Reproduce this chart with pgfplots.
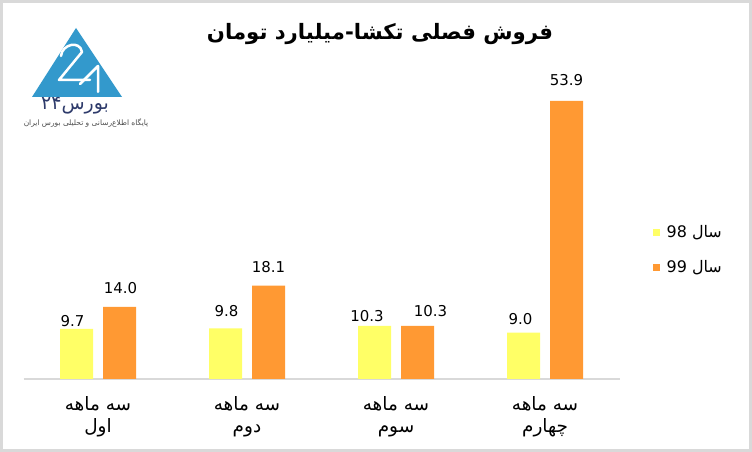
\documentclass[border=0pt]{standalone}
\usepackage{pgfplots}
\pgfplotsset{compat=1.18}
\usepackage{pgfplotstable}
\usepackage{fontspec}
\setmainfont{DejaVu Sans}
\newfontfamily\arabicfont[Script=Arabic]{DejaVu Sans}
\TeXXeTstate=1
\definecolor{barY}{HTML}{FFFF66}
\definecolor{barO}{HTML}{FF9933}
\definecolor{gridc}{HTML}{D9D9D9}
\definecolor{logoblue}{HTML}{3399CC}
\definecolor{logonavy}{HTML}{2E3B6B}

\pgfplotstableread{
x y98 dx98 dy98 y99 dx99 dy99
0 9.7  -4   2  14.0  1  13
1 9.8   1  12  18.1  0  13
2 10.3 -7.5 4  10.3 13   9
3 9.0  -3   8  53.9  0  15
}\datatable

\begin{document}
\begin{tikzpicture}[x=1bp,y=1bp]
\path[use as bounding box] (0,0) rectangle (752,452);
\fill[white] (0,0) rectangle (752,452);
\draw[gridc, line width=3bp] (1.5,1.5) rectangle (750.5,450.5);
% logo and title
\begin{scope}[shift={(0,452)}, yscale=-1]
\fill[logoblue] (32,97) -- (76,28) -- (122,97) -- cycle;
\draw[white, line width=2.5bp, line join=round, line cap=round]
  (61,56) .. controls (62,44) and (80,40) .. (82,52) -- (59,80) -- (90,80);
\draw[white, line width=2.5bp, line join=round, line cap=round]
  (80,84) -- (98,66) -- (98,92);
\node[text=logonavy, font=\arabicfont\fontsize{19}{20}\selectfont] at (75,106) {\beginR بورس\beginL ۲۴\endL\endR};
\node[text=black!70, font=\arabicfont\fontsize{7.5}{8}\selectfont] at (86,123) {\beginR پایگاه اطلاع‌رسانی و تحلیلی بورس ایران\endR};
\node[font=\arabicfont\bfseries\fontsize{21.3}{25}\selectfont] at (380,34) {\beginR فروش فصلی تکشا-میلیارد تومان\endR};
\end{scope}
\begin{axis}[
  at={(23.5bp,73bp)}, anchor=south west,
  scale only axis, width=596bp, height=309.5bp,
  xmin=-0.5, xmax=3.5, ymin=0, ymax=60,
  ybar=10bp, bar width=33bp,
  axis x line*=bottom, axis y line=none,
  x axis line style={gridc, line width=1.5bp, -},
  xtick={0,1,2,3}, major tick length=0pt,
  xticklabels={{\beginR سه ماهه\endR\\\beginR اول\endR},
               {\beginR سه ماهه\endR\\\beginR دوم\endR},
               {\beginR سه ماهه\endR\\\beginR سوم\endR},
               {\beginR سه ماهه\endR\\\beginR چهارم\endR}},
  xticklabel style={font=\arabicfont\fontsize{18.5}{22}\selectfont, align=center, yshift=-14bp},
  nodes near coords={\pgfmathprintnumber[fixed,fixed zerofill,precision=1,assume math mode=true]{\pgfplotspointmeta}},
  nodes near coords style={font=\fontsize{15}{18}\selectfont, inner sep=0pt, anchor=south, xshift=\dx*1bp, yshift=\dy*1bp},
  legend style={draw=none, fill=none, at={(1,0.417)}, anchor=west, xshift=30bp,
    font=\arabicfont\fontsize{16}{18}\selectfont, row sep=17bp},
  legend cell align=left,
  clip=false,
]
\addplot[fill=barY, draw=none,
  visualization depends on={\thisrow{dx98} \as \dx},
  visualization depends on={\thisrow{dy98} \as \dy},
  legend image code/.code={\fill[barY] (0bp,-3.5bp) rectangle (7bp,3.5bp); \path (12bp,0);}] table[x=x, y=y98] {\datatable};
\addlegendentry{\beginR سال \beginL 98\endL\endR}
\addplot[fill=barO, draw=none,
  visualization depends on={\thisrow{dx99} \as \dx},
  visualization depends on={\thisrow{dy99} \as \dy},
  legend image code/.code={\fill[barO] (0bp,-3.5bp) rectangle (7bp,3.5bp); \path (12bp,0);}] table[x=x, y=y99] {\datatable};
\addlegendentry{\beginR سال \beginL 99\endL\endR}
\end{axis}
\end{tikzpicture}
\end{document}
